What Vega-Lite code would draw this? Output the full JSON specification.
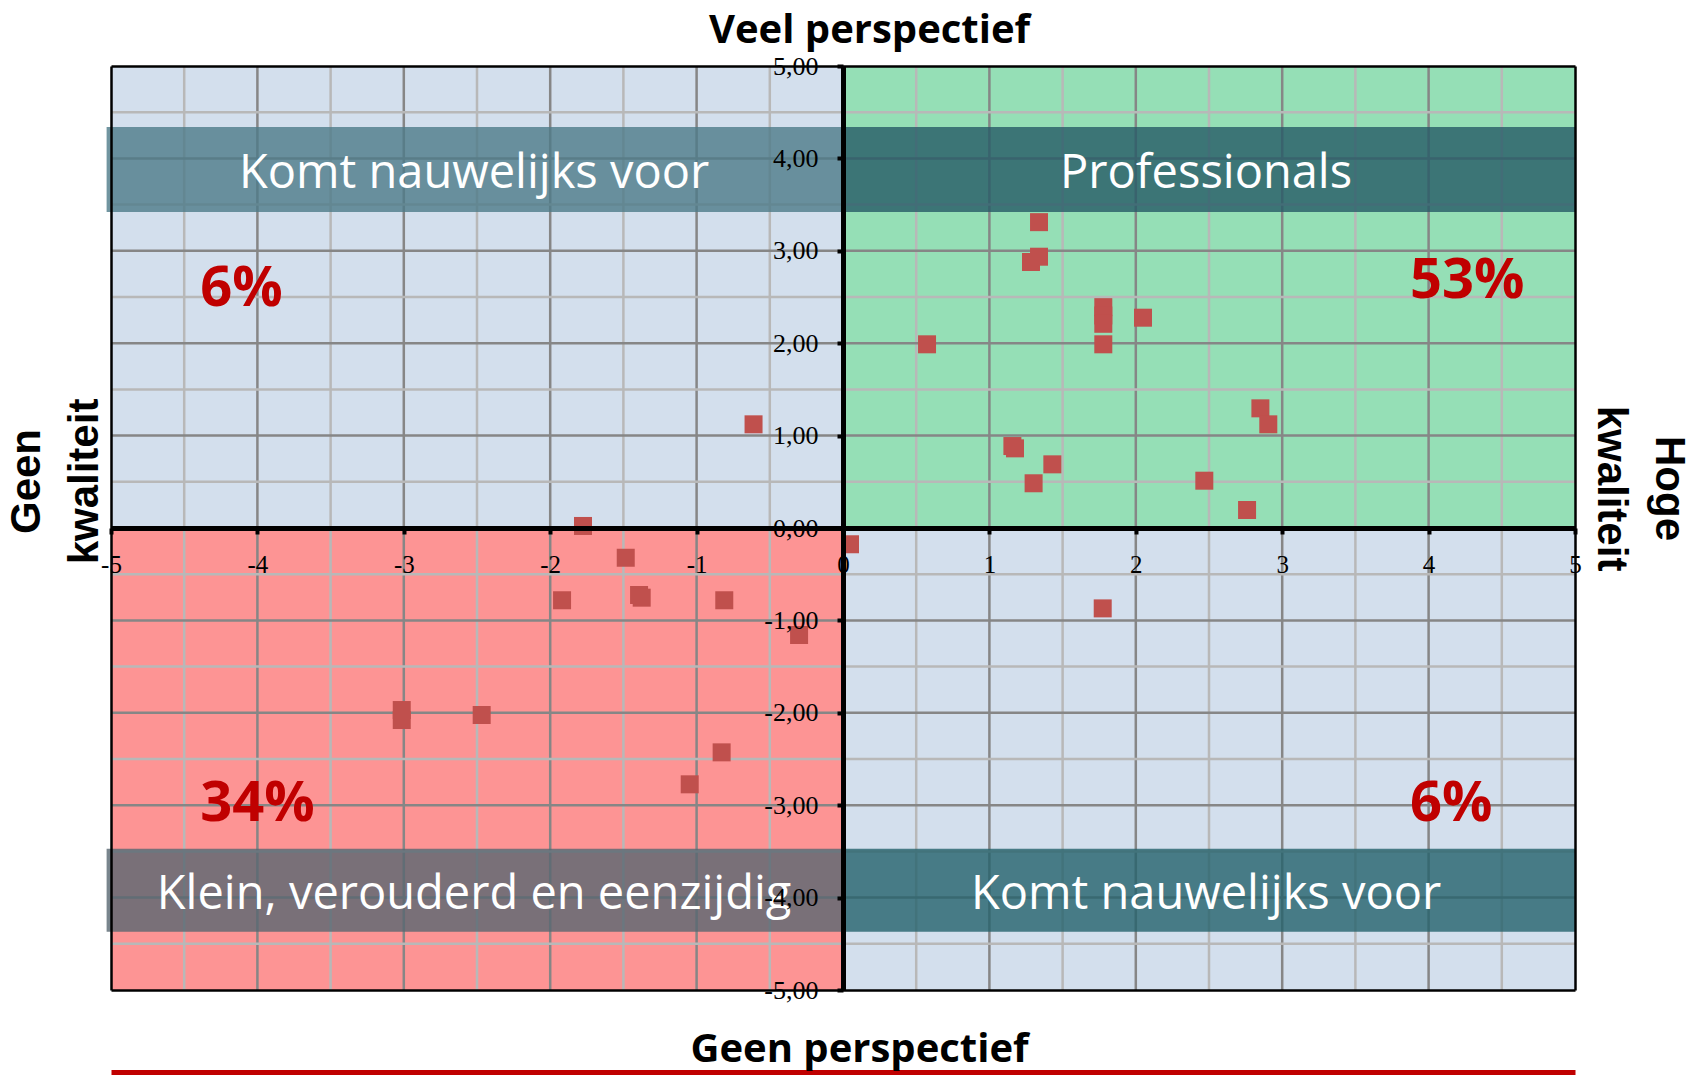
{
  "$schema": "https://vega.github.io/schema/vega-lite/v6.json",
  "width": 1464,
  "height": 924,
  "autosize": "none",
  "padding": {"left": 111, "top": 66, "right": 124, "bottom": 85},
  "background": "white",
  "config": {"view": {"stroke": null}},
  "datasets": {
    "quadrants": [
      {"q": "TL", "x1": -5, "x2": 0, "y1": 0, "y2": 5},
      {"q": "TR", "x1": 0, "x2": 5, "y1": 0, "y2": 5},
      {"q": "BL", "x1": -5, "x2": 0, "y1": -5, "y2": 0},
      {"q": "BR", "x1": 0, "x2": 5, "y1": -5, "y2": 0}
    ],
    "grid": [
      {"v": -4.5, "k": "minor"}, {"v": -3.5, "k": "minor"}, {"v": -2.5, "k": "minor"}, {"v": -1.5, "k": "minor"}, {"v": -0.5, "k": "minor"},
      {"v": 0.5, "k": "minor"}, {"v": 1.5, "k": "minor"}, {"v": 2.5, "k": "minor"}, {"v": 3.5, "k": "minor"}, {"v": 4.5, "k": "minor"},
      {"v": -4, "k": "major"}, {"v": -3, "k": "major"}, {"v": -2, "k": "major"}, {"v": -1, "k": "major"},
      {"v": 1, "k": "major"}, {"v": 2, "k": "major"}, {"v": 3, "k": "major"}, {"v": 4, "k": "major"}
    ],
    "banners": [
      {"q": "TL", "x1": -5.03, "x2": 0, "y1": 3.42, "y2": 4.34, "tx": -2.52, "ty": 3.68, "label": "Komt nauwelijks voor"},
      {"q": "TR", "x1": 0, "x2": 5, "y1": 3.42, "y2": 4.34, "tx": 2.48, "ty": 3.68, "label": "Professionals"},
      {"q": "BL", "x1": -5.03, "x2": 0, "y1": -4.37, "y2": -3.47, "tx": -2.52, "ty": -4.12, "label": "Klein, verouderd en eenzijdig"},
      {"q": "BR", "x1": 0, "x2": 5, "y1": -4.37, "y2": -3.47, "tx": 2.48, "ty": -4.12, "label": "Komt nauwelijks voor"}
    ],
    "pct": [
      {"px": -4.39, "py": 2.40, "pct": "6%"},
      {"px": 3.873, "py": 2.49, "pct": "53%"},
      {"px": -4.39, "py": -3.17, "pct": "34%"},
      {"px": 3.873, "py": -3.17, "pct": "6%"}
    ],
    "points": [
      {"x": 1.339, "y": 3.31}, {"x": 1.339, "y": 2.936}, {"x": 1.284, "y": 2.879},
      {"x": 1.778, "y": 2.39}, {"x": 1.778, "y": 2.30}, {"x": 1.778, "y": 2.21},
      {"x": 2.049, "y": 2.276}, {"x": 0.574, "y": 1.988}, {"x": 1.778, "y": 1.988},
      {"x": 2.851, "y": 1.295}, {"x": 2.905, "y": 1.122}, {"x": 1.157, "y": 0.887},
      {"x": 1.175, "y": 0.862}, {"x": 1.43, "y": 0.689}, {"x": 1.302, "y": 0.484},
      {"x": 2.468, "y": 0.512}, {"x": 2.76, "y": 0.195},
      {"x": -0.611, "y": 1.122}, {"x": -1.776, "y": 0.022},
      {"x": -1.484, "y": -0.322}, {"x": -1.919, "y": -0.782}, {"x": -1.393, "y": -0.725},
      {"x": -1.375, "y": -0.754}, {"x": -0.811, "y": -0.782}, {"x": -0.30, "y": -1.158},
      {"x": -3.014, "y": -1.97}, {"x": -3.014, "y": -2.078}, {"x": -2.468, "y": -2.024},
      {"x": -0.829, "y": -2.428}, {"x": -1.047, "y": -2.774},
      {"x": 0.048, "y": -0.176}, {"x": 1.774, "y": -0.87}
    ]
  },
  "resolve": {"axis": {"x": "independent", "y": "independent"}},
  "layer": [
    {
      "data": {"name": "quadrants"},
      "mark": {"type": "rect"},
      "encoding": {
        "x": {"field": "x1", "type": "quantitative", "scale": {"domain": [-5, 5], "nice": false, "zero": false},
          "axis": {"orient": "bottom", "offset": -462, "values": [-5, -4, -3, -2, -1, 0, 1, 2, 3, 4, 5],
            "labelExpr": "datum.value + ''", "grid": false, "domain": true, "domainColor": "black", "domainWidth": 5,
            "ticks": true, "tickColor": "black", "tickSize": 6, "tickWidth": 4,
            "labelFont": "Liberation Serif", "labelFontSize": 25, "labelColor": "black", "labelPadding": 18,
            "labelFlush": false, "labelOverlap": false, "title": null, "zindex": 1}},
        "x2": {"field": "x2"},
        "y": {"field": "y1", "type": "quantitative", "scale": {"domain": [-5, 5], "nice": false, "zero": false},
          "axis": {"orient": "left", "offset": -732, "values": [-5, -4, -3, -2, -1, 0, 1, 2, 3, 4, 5],
            "labelExpr": "(datum.value < 0 ? '-' : '') + replace(format(abs(datum.value), '.2f'), '.', ',')",
            "grid": false, "domain": true, "domainColor": "black", "domainWidth": 5,
            "ticks": true, "tickColor": "black", "tickSize": 6, "tickWidth": 4,
            "labelFont": "Liberation Serif", "labelFontSize": 26, "labelColor": "black", "labelPadding": 19,
            "labelFlush": false, "labelOverlap": false, "title": null, "zindex": 1}},
        "y2": {"field": "y2"},
        "color": {"field": "q", "type": "nominal", "legend": null,
          "scale": {"domain": ["TL", "TR", "BL", "BR"], "range": ["#D3DFED", "#95DFB6", "#FD9494", "#D3DFED"]}}
      }
    },
    {
      "data": {"name": "grid"},
      "mark": {"type": "rule", "strokeWidth": 2.5},
      "encoding": {
        "x": {"field": "v", "type": "quantitative", "scale": {"domain": [-5, 5], "nice": false, "zero": false}, "axis": null},
        "stroke": {"field": "k", "type": "nominal", "legend": null,
          "scale": {"domain": ["major", "minor"], "range": ["#868686", "#B8B8B8"]}}
      }
    },
    {
      "data": {"name": "grid"},
      "mark": {"type": "rule", "strokeWidth": 2.5},
      "encoding": {
        "y": {"field": "v", "type": "quantitative", "scale": {"domain": [-5, 5], "nice": false, "zero": false}, "axis": null},
        "stroke": {"field": "k", "type": "nominal", "legend": null,
          "scale": {"domain": ["major", "minor"], "range": ["#868686", "#B8B8B8"]}}
      }
    },
    {
      "data": {"name": "banners"},
      "mark": {"type": "rect", "fillOpacity": 0.8},
      "encoding": {
        "x": {"field": "x1", "type": "quantitative", "scale": {"domain": [-5, 5], "nice": false, "zero": false},
          "axis": {"orient": "top", "labels": false, "ticks": false, "grid": false, "domain": true, "domainColor": "black", "domainWidth": 2.5, "zindex": 1,
            "title": "Veel perspectief", "titleFont": "Open Sans", "titleFontSize": 40, "titleFontWeight": "bold", "titleColor": "black",
            "titleX": 758, "titleY": -24, "titleBaseline": "alphabetic", "titleAlign": "center", "titleAngle": 0}},
        "x2": {"field": "x2"},
        "y": {"field": "y1", "type": "quantitative", "scale": {"domain": [-5, 5], "nice": false, "zero": false},
          "axis": {"orient": "right", "labels": false, "ticks": false, "grid": false, "domain": true, "domainColor": "black", "domainWidth": 2.5, "zindex": 1,
            "title": ["Hoge", "kwaliteit"], "titleFont": "Liberation Sans", "titleFontSize": 42, "titleFontWeight": "bold", "titleColor": "black",
            "titleAngle": 90, "titleX": 80, "titleY": 422, "titleBaseline": "alphabetic", "titleAlign": "center", "titleLineHeight": 58}},
        "y2": {"field": "y2"},
        "fill": {"field": "q", "type": "nominal", "legend": null,
          "scale": {"domain": ["TL", "TR", "BL", "BR"], "range": ["#4D7A88", "#255A66", "#576771", "#24616B"]}}
      }
    },
    {
      "data": {"name": "banners"},
      "mark": {"type": "text", "font": "Open Sans", "fontSize": 47, "color": "white", "align": "center", "baseline": "alphabetic"},
      "encoding": {
        "x": {"field": "tx", "type": "quantitative", "scale": {"domain": [-5, 5], "nice": false, "zero": false},
          "axis": {"orient": "bottom", "offset": 82, "labels": false, "ticks": false, "grid": false, "domain": true, "domainColor": "#C00000", "domainWidth": 5, "title": null}},
        "y": {"field": "ty", "type": "quantitative", "scale": {"domain": [-5, 5], "nice": false, "zero": false}, "axis": null},
        "text": {"field": "label"}
      }
    },
    {
      "data": {"name": "pct"},
      "mark": {"type": "text", "font": "Open Sans", "fontSize": 56, "fontWeight": "bold", "color": "#C00000", "align": "left", "baseline": "alphabetic"},
      "encoding": {
        "x": {"field": "px", "type": "quantitative", "scale": {"domain": [-5, 5], "nice": false, "zero": false}, "axis": null},
        "y": {"field": "py", "type": "quantitative", "scale": {"domain": [-5, 5], "nice": false, "zero": false}, "axis": null},
        "text": {"field": "pct"}
      }
    },
    {
      "data": {"name": "points"},
      "mark": {"type": "square", "size": 324, "color": "#C0504D", "opacity": 1},
      "encoding": {
        "x": {"field": "x", "type": "quantitative", "scale": {"domain": [-5, 5], "nice": false, "zero": false},
          "axis": {"orient": "bottom", "labels": false, "ticks": false, "grid": false, "domain": true, "domainColor": "black", "domainWidth": 2.5, "zindex": 1,
            "title": "Geen perspectief", "titleFont": "Open Sans", "titleFontSize": 40, "titleFontWeight": "bold", "titleColor": "black",
            "titleX": 748, "titleY": 71, "titleBaseline": "alphabetic", "titleAlign": "center", "titleAngle": 0}},
        "y": {"field": "y", "type": "quantitative", "scale": {"domain": [-5, 5], "nice": false, "zero": false},
          "axis": {"orient": "left", "labels": false, "ticks": false, "grid": false, "domain": true, "domainColor": "black", "domainWidth": 2.5, "zindex": 1,
            "title": ["Geen", "kwaliteit"], "titleFont": "Liberation Sans", "titleFontSize": 42, "titleFontWeight": "bold", "titleColor": "black",
            "titleAngle": -90, "titleX": -72, "titleY": 415, "titleBaseline": "alphabetic", "titleAlign": "center", "titleLineHeight": 58}}
      }
    }
  ]
}
